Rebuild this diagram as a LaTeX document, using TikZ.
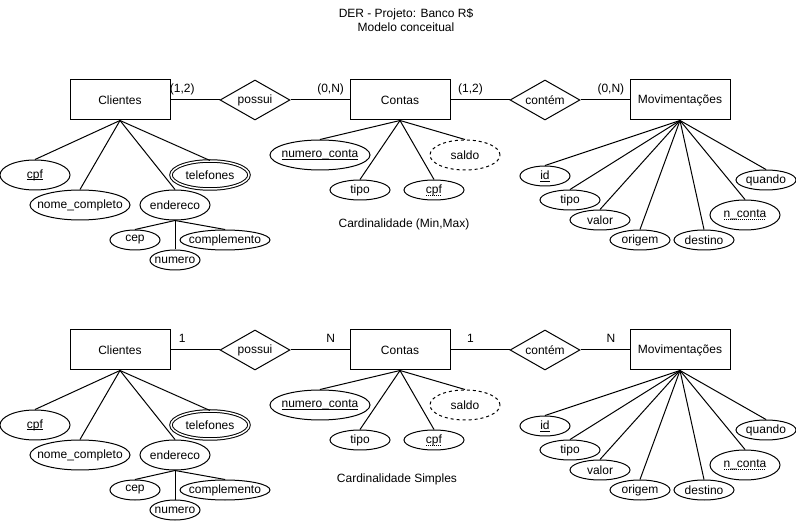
\documentclass[tikz,border=0pt]{standalone}
\usepackage{fontspec}
\setmainfont{Liberation Sans}
\usepackage{tikz}
\usetikzlibrary{shapes.geometric}

% chave primaria (sublinhado) e chave estrangeira (pontilhado)
\newcommand\pkey[1]{\setbox0\hbox{#1}\rlap{\rule[-2pt]{\wd0}{0.8pt}}\box0}
\newcommand\fkey[1]{\setbox0\hbox{#1}\rlap{\hbox to\wd0{\leaders\hbox to 2pt{\hss\rule[-2.5pt]{1pt}{0.8pt}\hss}\hfill}}\box0}

\tikzset{
  entity/.style={draw, rectangle, minimum width=100pt, minimum height=40pt, inner sep=0pt},
  relation/.style={draw, diamond, aspect=1.75, minimum width=70pt, minimum height=40pt, inner sep=0pt},
  attr/.style 2 args={draw, ellipse, inner sep=0pt, minimum width=#1, minimum height=#2},
  card/.style={anchor=base, yshift=7pt, inner sep=0pt},
}

\begin{document}
\begin{tikzpicture}[x=1pt, y=-1pt, line width=1pt, font=\fontsize{12}{14}\selectfont]
            \useasboundingbox (0,0) rectangle (796,521);

            \node[align=center] (title) at (406,20) {DER - Projeto: Banco R\$\\Modelo conceitual};

            % modelo com (min,max)
            \node[entity] (cli) at (120,100) {Clientes};
            \node[relation] (possui) at (255,100) {possui};
            \node[entity] (con) at (400,100) {Contas};
            \node[relation] (contem) at (545,100) {contém};
            \node[entity] (mov) at (680,100) {Movimentações};

            \draw (cli) -- node[card, pos=0.24] {(1,2)} (possui);
            \draw (possui) -- node[card, pos=0.68] {(0,N)} (con);
            \draw (con) -- node[card, pos=0.34] {(1,2)} (contem);
            \draw (contem) -- node[card, pos=0.62] {(0,N)} (mov);

            \node[attr={70pt}{30pt}, label=center:{\pkey{cpf}}] (cpf) at (35,175) {};
            \node[attr={100pt}{30pt}, label=center:{nome\_completo}] (nome) at (80,205) {};
            \node[attr={70pt}{30pt}, label=center:{endereco}] (end) at (175,205) {};
            \node[attr={78pt}{28pt}, double, double distance=1.5pt, label=center:{telefones}] (tel) at (210,175) {};
            \node[attr={50pt}{20pt}, label=center:{cep}] (cep) at (135,240) {};
            \node[attr={90pt}{20pt}, label=center:{complemento}] (compl) at (225,240) {};
            \node[attr={50pt}{20pt}, label=center:{numero}] (num) at (175,260) {};
            \draw (cli.south) -- (cpf.north);
            \draw (cli.south) -- (nome.north);
            \draw (cli.south) -- (end.north);
            \draw (cli.south) -- (tel.north);
            \draw (end.south) -- (cep.north);
            \draw (end.south) -- (compl.north);
            \draw (end.south) -- (num.north);

            \node[attr={100pt}{30pt}, label=center:{\pkey{numero\_conta}}] (ncon) at (320,155) {};
            \node[attr={70pt}{30pt}, dashed, label=center:{saldo}] (saldo) at (465,155) {};
            \node[attr={60pt}{20pt}, label=center:{tipo}] (ctipo) at (360,190) {};
            \node[attr={60pt}{20pt}, label=center:{\fkey{cpf}}] (ccpf) at (434,190) {};
            \draw (con.south) -- (ncon.north);
            \draw (con.south) -- (ctipo.north);
            \draw (con.south) -- (ccpf.north);
            \draw (con.south) -- (saldo.north);

            \node[attr={50pt}{20pt}, label=center:{\pkey{id}}] (id) at (545,176) {};
            \node[attr={60pt}{20pt}, label=center:{tipo}] (mtipo) at (570,200) {};
            \node[attr={60pt}{20pt}, label=center:{valor}] (valor) at (600,220) {};
            \node[attr={60pt}{20pt}, label=center:{origem}] (origem) at (640,240) {};
            \node[attr={60pt}{20pt}, label=center:{destino}] (destino) at (704,240) {};
            \node[attr={70pt}{30pt}, label=center:{\fkey{n\_conta}}] (nconta) at (745,215) {};
            \node[attr={60pt}{20pt}, label=center:{quando}] (quando) at (766,180) {};
            \draw (mov.south) -- (id.north);
            \draw (mov.south) -- (mtipo.north);
            \draw (mov.south) -- (valor.north);
            \draw (mov.south) -- (origem.north);
            \draw (mov.south) -- (destino.north);
            \draw (mov.south) -- (nconta.north);
            \draw (mov.south) -- (quando.north);

            \node (cardmm) at (404,224) {Cardinalidade (Min,Max)};

            % modelo com cardinalidade simples
            \begin{scope}[yshift=-250pt]
            \node[entity] (cli2) at (120,100) {Clientes};
            \node[relation] (possui2) at (255,100) {possui};
            \node[entity] (con2) at (400,100) {Contas};
            \node[relation] (contem2) at (545,100) {contém};
            \node[entity] (mov2) at (680,100) {Movimentações};

            \draw (cli2) -- node[card, pos=0.24] {1} (possui2);
            \draw (possui2) -- node[card, pos=0.68] {N} (con2);
            \draw (con2) -- node[card, pos=0.34] {1} (contem2);
            \draw (contem2) -- node[card, pos=0.62] {N} (mov2);

            \node[attr={70pt}{30pt}, label=center:{\pkey{cpf}}] (cpf2) at (35,175) {};
            \node[attr={100pt}{30pt}, label=center:{nome\_completo}] (nome2) at (80,205) {};
            \node[attr={70pt}{30pt}, label=center:{endereco}] (end2) at (175,205) {};
            \node[attr={78pt}{28pt}, double, double distance=1.5pt, label=center:{telefones}] (tel2) at (210,175) {};
            \node[attr={50pt}{20pt}, label=center:{cep}] (cep2) at (135,240) {};
            \node[attr={90pt}{20pt}, label=center:{complemento}] (compl2) at (225,240) {};
            \node[attr={50pt}{20pt}, label=center:{numero}] (num2) at (175,260) {};
            \draw (cli2.south) -- (cpf2.north);
            \draw (cli2.south) -- (nome2.north);
            \draw (cli2.south) -- (end2.north);
            \draw (cli2.south) -- (tel2.north);
            \draw (end2.south) -- (cep2.north);
            \draw (end2.south) -- (compl2.north);
            \draw (end2.south) -- (num2.north);

            \node[attr={100pt}{30pt}, label=center:{\pkey{numero\_conta}}] (ncon2) at (320,155) {};
            \node[attr={70pt}{30pt}, dashed, label=center:{saldo}] (saldo2) at (465,155) {};
            \node[attr={60pt}{20pt}, label=center:{tipo}] (ctipo2) at (360,190) {};
            \node[attr={60pt}{20pt}, label=center:{\fkey{cpf}}] (ccpf2) at (434,190) {};
            \draw (con2.south) -- (ncon2.north);
            \draw (con2.south) -- (ctipo2.north);
            \draw (con2.south) -- (ccpf2.north);
            \draw (con2.south) -- (saldo2.north);

            \node[attr={50pt}{20pt}, label=center:{\pkey{id}}] (id2) at (545,176) {};
            \node[attr={60pt}{20pt}, label=center:{tipo}] (mtipo2) at (570,200) {};
            \node[attr={60pt}{20pt}, label=center:{valor}] (valor2) at (600,220) {};
            \node[attr={60pt}{20pt}, label=center:{origem}] (origem2) at (640,240) {};
            \node[attr={60pt}{20pt}, label=center:{destino}] (destino2) at (704,240) {};
            \node[attr={70pt}{30pt}, label=center:{\fkey{n\_conta}}] (nconta2) at (745,215) {};
            \node[attr={60pt}{20pt}, label=center:{quando}] (quando2) at (766,180) {};
            \draw (mov2.south) -- (id2.north);
            \draw (mov2.south) -- (mtipo2.north);
            \draw (mov2.south) -- (valor2.north);
            \draw (mov2.south) -- (origem2.north);
            \draw (mov2.south) -- (destino2.north);
            \draw (mov2.south) -- (nconta2.north);
            \draw (mov2.south) -- (quando2.north);

            \node (cardsimp) at (397,229) {Cardinalidade Simples};
            \end{scope}
        \end{tikzpicture}
\end{document}
